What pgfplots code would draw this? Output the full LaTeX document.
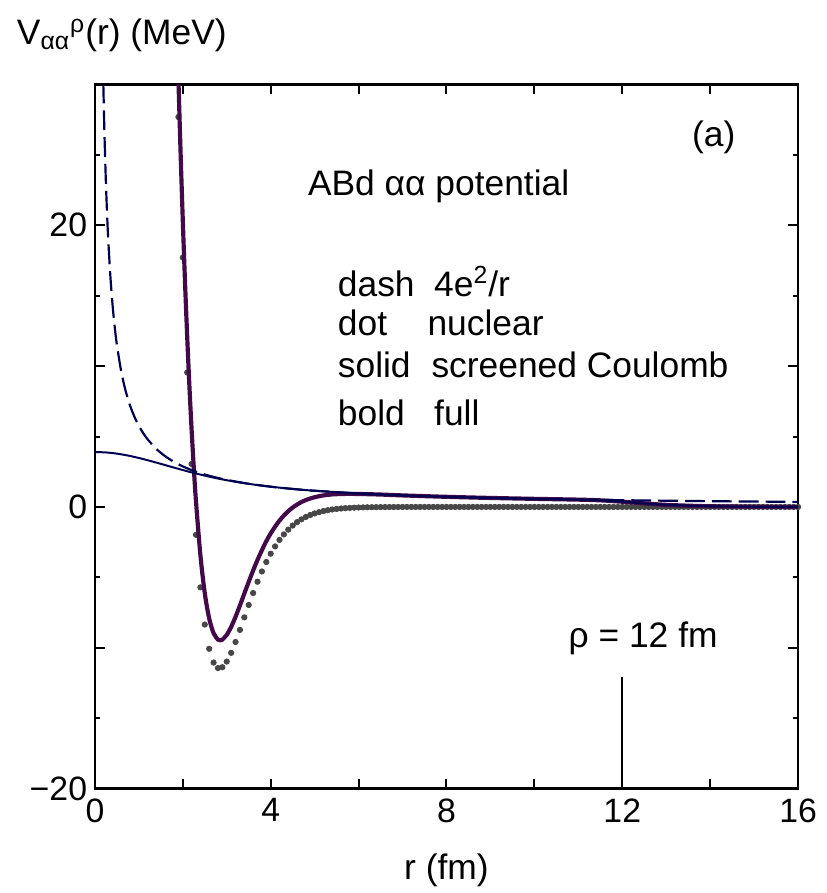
\documentclass[border=0pt]{standalone}
\usepackage{fontspec}
\setmainfont{Liberation Sans}
\usepackage{pgfplots}
\pgfplotsset{compat=1.18}
\definecolor{boldc}{HTML}{420A48}
\definecolor{navy}{HTML}{000050}
\definecolor{dotc}{HTML}{474747}
\newcommand\fsz{\fontsize{17.8}{21}\selectfont}
\begin{document}
\begin{tikzpicture}
\begin{axis}[name=ax, scale only axis, width=353.75pt, height=354.25pt,
 xmin=0, xmax=16, ymin=-20, ymax=30,
 xtick={0,2,...,16}, xticklabels={0,,4,,8,,12,,16},
 ytick={-20,-10,...,20}, yticklabels={−20,,0,,20},
 minor ytick={-15,-5,5,15,25},
 major tick length=5pt, minor tick length=2.5pt,
 tick style={line width=1pt, black},
 axis line style={line width=1.2pt},
 tick label style={font=\fontsize{17}{20}\selectfont},
 xticklabel style={inner sep=4.75pt}, yticklabel style={inner sep=3.75pt},
 xlabel={r (fm)},
 xlabel style={at={(axis description cs:0.5,0)}, anchor=base, yshift=-45.5pt, font=\fsz},
 clip mode=individual,
]
% nuclear (dots)
\addplot[only marks, mark=*, mark size=1.35pt, color=dotc] coordinates {
(1.9,27.69)(2.0,17.71)(2.1,9.55)(2.2,3.05)(2.3,-1.98)(2.4,-5.71)(2.5,-8.35)(2.6,-10.07)(2.7,-11.05)(2.8,-11.44)(2.9,-11.38)(3.0,-10.98)(3.1,-10.36)(3.2,-9.59)(3.3,-8.73)(3.4,-7.84)(3.5,-6.96)(3.6,-6.11)(3.7,-5.31)(3.8,-4.58)(3.9,-3.91)(4.0,-3.32)(4.1,-2.80)(4.2,-2.34)(4.3,-1.95)(4.4,-1.61)(4.5,-1.32)(4.6,-1.08)(4.7,-0.88)(4.8,-0.71)(4.9,-0.57)(5.0,-0.46)(5.1,-0.37)(5.2,-0.29)(5.3,-0.23)(5.4,-0.18)(5.5,-0.14)(5.6,-0.11)(5.7,-0.085)(5.8,-0.066)(5.9,-0.051)(6.0,-0.039)(6.1,-0.029)(6.2,-0.022)(6.3,-0.017)(6.4,-0.013)(6.5,-0.009)(6.6,-0.007)(6.7,-0.005)(6.8,-0.004)(6.9,-0.003)(7.0,-0.002)
(7.1,0)(7.2,0)(7.3,0)(7.4,0)(7.5,0)(7.6,0)(7.7,0)(7.8,0)(7.9,0)(8.0,0)
(8.1,0)(8.2,0)(8.3,0)(8.4,0)(8.5,0)(8.6,0)(8.7,0)(8.8,0)(8.9,0)(9.0,0)
(9.1,0)(9.2,0)(9.3,0)(9.4,0)(9.5,0)(9.6,0)(9.7,0)(9.8,0)(9.9,0)(10.0,0)
(10.1,0)(10.2,0)(10.3,0)(10.4,0)(10.5,0)(10.6,0)(10.7,0)(10.8,0)(10.9,0)(11.0,0)
(11.1,0)(11.2,0)(11.3,0)(11.4,0)(11.5,0)(11.6,0)(11.7,0)(11.8,0)(11.9,0)(12.0,0)
(12.1,0)(12.2,0)(12.3,0)(12.4,0)(12.5,0)(12.6,0)(12.7,0)(12.8,0)(12.9,0)(13.0,0)
(13.1,0)(13.2,0)(13.3,0)(13.4,0)(13.5,0)(13.6,0)(13.7,0)(13.8,0)(13.9,0)(14.0,0)
(14.1,0)(14.2,0)(14.3,0)(14.4,0)(14.5,0)(14.6,0)(14.7,0)(14.8,0)(14.9,0)(15.0,0)
(15.1,0)(15.2,0)(15.3,0)(15.4,0)(15.5,0)(15.6,0)(15.7,0)(15.8,0)(15.9,0)(16.0,0)
};
% full (bold)
\addplot[line width=2.1pt, color=boldc, smooth] coordinates {
(1.8,42.43)(1.85,36.16)(1.9,30.40)(1.95,25.12)(2.0,20.33)(2.05,15.99)(2.1,12.09)(2.15,8.60)(2.2,5.51)(2.25,2.79)(2.3,0.40)(2.4,-3.41)(2.5,-6.12)(2.6,-7.91)(2.7,-8.96)(2.8,-9.42)(2.85,-9.47)(2.9,-9.42)(3.0,-9.08)(3.1,-8.52)(3.2,-7.80)(3.3,-6.99)(3.4,-6.15)(3.5,-5.32)(3.6,-4.51)(3.7,-3.76)(3.8,-3.07)(3.9,-2.43)(4.0,-1.88)(4.1,-1.40)(4.2,-0.97)(4.3,-0.61)(4.4,-0.30)(4.5,-0.04)(4.6,0.17)(4.7,0.35)(4.8,0.49)(4.9,0.60)(5.0,0.69)(5.2,0.82)(5.4,0.89)(5.6,0.92)(5.8,0.93)(6.0,0.92)(6.3,0.90)(6.6,0.87)(7.0,0.82)(8.0,0.72)(9.0,0.64)(10.0,0.576)(11.0,0.52)(11.5,0.47)(12.0,0.37)(12.5,0.25)(13.0,0.15)(13.5,0.09)(14.0,0.05)(15.0,0.015)(16.0,0.0)
};
% 4e^2/r (dashed)
\addplot[line width=1.1pt, color=navy, dash pattern=on 10pt off 3.5pt, smooth] coordinates {
(0.17,33.88)(0.19,30.32)(0.2,28.8)(0.22,26.18)(0.25,23.04)(0.28,20.57)(0.3,19.2)(0.35,16.46)(0.4,14.4)(0.45,12.8)(0.5,11.52)(0.6,9.6)(0.7,8.229)(0.8,7.2)(0.9,6.4)(1.0,5.76)(1.1,5.236)(1.2,4.8)(1.4,4.114)(1.6,3.6)(1.8,3.2)(2.0,2.88)(2.25,2.56)(2.5,2.304)(2.75,2.095)(3.0,1.92)(3.5,1.646)(4.0,1.44)(4.5,1.28)(5.0,1.152)(6.0,0.96)(7.0,0.823)(8.0,0.72)(9.0,0.64)(10.0,0.576)(11.0,0.524)(12.0,0.48)(13.0,0.443)(14.0,0.411)(15.0,0.384)(16.0,0.36)
};
% screened Coulomb (solid)
\addplot[line width=1pt, color=navy, smooth] coordinates {
(0,3.90)(0.25,3.871)(0.5,3.786)(0.75,3.652)(1.0,3.478)(1.25,3.277)(1.5,3.060)(1.75,2.839)(2.0,2.622)(2.25,2.416)(2.5,2.226)(2.75,2.053)(3.0,1.899)(3.5,1.641)(4.0,1.439)(4.5,1.279)(5.0,1.152)(6.0,0.96)(7.0,0.823)(8.0,0.72)(9.0,0.64)(10.0,0.576)(11.0,0.52)(11.5,0.47)(12.0,0.37)(12.5,0.25)(13.0,0.15)(13.5,0.09)(14.0,0.05)(15.0,0.015)(16.0,0.0)
};
% rho marker
\addplot[line width=1pt, black] coordinates {(12,-12.1)(12,-20)};
\node[anchor=center, font=\fsz] at (axis cs:14.08,26.26) {(a)};
\node[anchor=base west, font=\fsz] at (axis cs:4.69,22.10) {ABd αα potential};
\node[anchor=base west, font=\fsz] at (axis cs:5.37,14.97) {dash};
\node[anchor=base west, font=\fsz] at (axis cs:7.56,14.97) {4e\textsuperscript{2}/r};
\node[anchor=base west, font=\fsz] at (axis cs:5.37,12.14) {dot};
\node[anchor=base west, font=\fsz] at (axis cs:7.41,12.14) {nuclear};
\node[anchor=base west, font=\fsz] at (axis cs:5.37,9.18) {solid};
\node[anchor=base west, font=\fsz] at (axis cs:7.50,9.18) {screened Coulomb};
\node[anchor=base west, font=\fsz] at (axis cs:5.37,5.79) {bold};
\node[anchor=base west, font=\fsz] at (axis cs:7.56,5.79) {full};
\node[anchor=base west, font=\fsz] at (axis cs:10.62,-10.01) {ρ = 12 fm};
\end{axis}
\node[anchor=base west, font=\fsz] at ([xshift=-42.75pt,yshift=20pt]ax.north west) {V\textsubscript{αα}\textsuperscript{ρ}(r) (MeV)};
\path ([xshift=-47.75pt,yshift=-49.75pt]ax.south west) rectangle ([xshift=13.5pt,yshift=42.5pt]ax.north east);
\end{tikzpicture}
\end{document}
